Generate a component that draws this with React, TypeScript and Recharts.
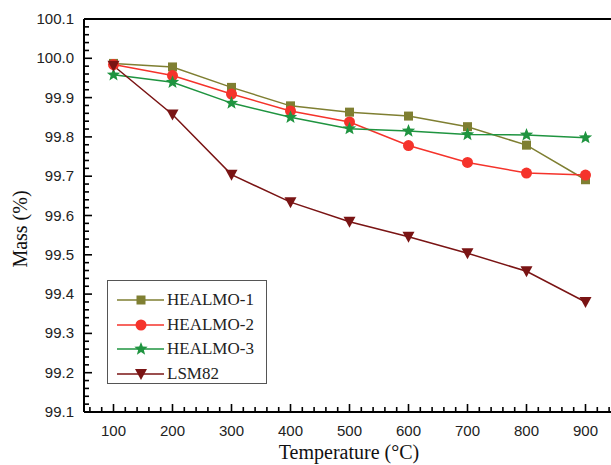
import React from 'react';
import { LineChart, Line, XAxis, YAxis, ReferenceLine } from 'recharts';

const temperatures = [100, 200, 300, 400, 500, 600, 700, 800, 900];
const healmo1 = [99.987, 99.978, 99.926, 99.879, 99.863, 99.853, 99.826, 99.779, 99.691];
const healmo2 = [99.984, 99.956, 99.909, 99.866, 99.838, 99.778, 99.735, 99.708, 99.703];
const healmo3 = [99.958, 99.939, 99.886, 99.850, 99.821, 99.815, 99.806, 99.805, 99.798];
const lsm82 = [99.981, 99.857, 99.704, 99.634, 99.584, 99.546, 99.504, 99.458, 99.380];

const xTicks: number[] = [];
for (let v = 60; v <= 940; v += 20) xTicks.push(v);
const yTicks: number[] = [];
for (let i = 0; i <= 50; i++) yTicks.push(Math.round((99.1 + i * 0.02) * 1000) / 1000);

const data = temperatures.map((t, i) => ({
  t,
  h1: healmo1[i],
  h2: healmo2[i],
  h3: healmo3[i],
  lsm: lsm82[i],
}));

const C1 = '#7f7f32';
const C2 = '#f5332b';
const C3 = '#1f9440';
const C4 = '#7a1414';

function starPath(cx: number, cy: number, ro: number, ri: number) {
  let d = '';
  for (let i = 0; i < 10; i++) {
    const r = i % 2 === 0 ? ro : ri;
    const a = -Math.PI / 2 + (i * Math.PI) / 5;
    d += (i === 0 ? 'M' : 'L') + (cx + r * Math.cos(a)).toFixed(2) + ',' + (cy + r * Math.sin(a)).toFixed(2);
  }
  return d + 'Z';
}

function Marker({ kind, cx, cy, color }: { kind: string; cx: number; cy: number; color: string }) {
  if (kind === 'square') return <rect x={cx - 4.5} y={cy - 4.5} width={9} height={9} fill={color} />;
  if (kind === 'circle') return <circle cx={cx} cy={cy} r={5.5} fill={color} />;
  if (kind === 'star') return <path d={starPath(cx, cy, 7, 3)} fill={color} />;
  return <path d={`M${cx - 6},${cy - 5} L${cx + 6},${cy - 5} L${cx},${cy + 6} Z`} fill={color} />;
}

const makeDot = (kind: string, color: string) => (props: any) => {
  const { cx, cy, index } = props;
  return (
    <g key={`${kind}-${index}`}>
      <Marker kind={kind} cx={cx} cy={cy} color={color} />
    </g>
  );
};

const isMajorX = (v: number) => v % 100 === 0;
const isMajorY = (v: number) => Math.abs(v * 10 - Math.round(v * 10)) < 1e-6;

const XTick = (props: any) => {
  const { x, y, payload } = props;
  const v = payload.value;
  const major = isMajorX(v);
  return (
    <g>
      <line x1={x} x2={x} y1={y} y2={y - (major ? 8 : 5)} stroke="#000" strokeWidth={1.6} />
      {major && v >= 100 && v <= 900 && (
        <text x={x} y={y + 24} textAnchor="middle" fontFamily="'Liberation Sans', Arial, sans-serif" fontSize={15} fill="#222">
          {v}
        </text>
      )}
    </g>
  );
};

const YTick = (props: any) => {
  const { x, y, payload } = props;
  const v = payload.value;
  const major = isMajorY(v);
  return (
    <g>
      <line x1={x} x2={x + (major ? 8 : 5)} y1={y} y2={y} stroke="#000" strokeWidth={1.6} />
      {major && (
        <text x={x - 10} y={y + 5} textAnchor="end" fontFamily="'Liberation Sans', Arial, sans-serif" fontSize={15} fill="#222">
          {v.toFixed(1)}
        </text>
      )}
    </g>
  );
};

const legendItems = [
  { name: 'HEALMO-1', color: C1, kind: 'square' },
  { name: 'HEALMO-2', color: C2, kind: 'circle' },
  { name: 'HEALMO-3', color: C3, kind: 'star' },
  { name: 'LSM82', color: C4, kind: 'triangle' },
];

const LegendBox = () => (
  <div
    style={{
      position: 'absolute',
      left: 107,
      top: 280,
      width: 160,
      height: 104,
      border: '1px solid #555',
      boxSizing: 'border-box',
      background: '#fff',
      paddingTop: 7,
    }}
  >
    {legendItems.map((it) => (
      <div key={it.name} style={{ display: 'flex', alignItems: 'center', height: 24.5 }}>
        <svg width={58} height={20} style={{ display: 'block' }}>
          <line x1={9} x2={56} y1={10} y2={10} stroke={it.color} strokeWidth={1.5} />
          <Marker kind={it.kind} cx={33} cy={10} color={it.color} />
        </svg>
        <span
          style={{
            fontFamily: "'Liberation Serif', 'Times New Roman', serif",
            fontSize: 17,
            color: '#222',
            marginLeft: 1,
            lineHeight: '20px',
          }}
        >
          {it.name}
        </span>
      </div>
    ))}
  </div>
);

export default function App() {
  return (
    <div style={{ position: 'absolute', left: 0, top: 0, width: 611, height: 465, overflow: 'hidden', background: '#fff' }}>
      <LineChart width={620} height={465} data={data} margin={{ top: 19, right: 5, bottom: 0, left: 0 }}>
        <XAxis
          dataKey="t"
          type="number"
          domain={[50, 950]}
          ticks={xTicks}
          interval={0}
          tickSize={0}
          tickMargin={0}
          tickLine={false}
          tick={<XTick />}
          height={53}
          axisLine={{ stroke: '#000', strokeWidth: 2 }}
          label={{
            content: () => (
              <text x={349} y={459} textAnchor="middle" fontFamily="'Liberation Serif', 'Times New Roman', serif" fontSize={20} fill="#111">
                Temperature (°C)
              </text>
            ),
          }}
        />
        <YAxis
          type="number"
          domain={[99.1, 100.1]}
          ticks={yTicks}
          interval={0}
          tickSize={0}
          tickMargin={0}
          tickLine={false}
          tick={<YTick />}
          width={84}
          allowDataOverflow
          axisLine={{ stroke: '#000', strokeWidth: 2 }}
          label={{
            content: () => (
              <text
                x={27}
                y={229}
                textAnchor="middle"
                transform="rotate(-90 27 229)"
                fontFamily="'Liberation Serif', 'Times New Roman', serif"
                fontSize={20}
                fill="#111"
              >
                Mass (%)
              </text>
            ),
          }}
        />
        <ReferenceLine y={100.1} stroke="#000" strokeWidth={2} ifOverflow="visible" />
        <Line dataKey="h1" name="HEALMO-1" stroke={C1} strokeWidth={1.5} dot={makeDot('square', C1)} isAnimationActive={false} />
        <Line dataKey="h2" name="HEALMO-2" stroke={C2} strokeWidth={1.5} dot={makeDot('circle', C2)} isAnimationActive={false} />
        <Line dataKey="h3" name="HEALMO-3" stroke={C3} strokeWidth={1.5} dot={makeDot('star', C3)} isAnimationActive={false} />
        <Line dataKey="lsm" name="LSM82" stroke={C4} strokeWidth={1.5} dot={makeDot('triangle', C4)} isAnimationActive={false} />
      </LineChart>
      <LegendBox />
    </div>
  );
}
